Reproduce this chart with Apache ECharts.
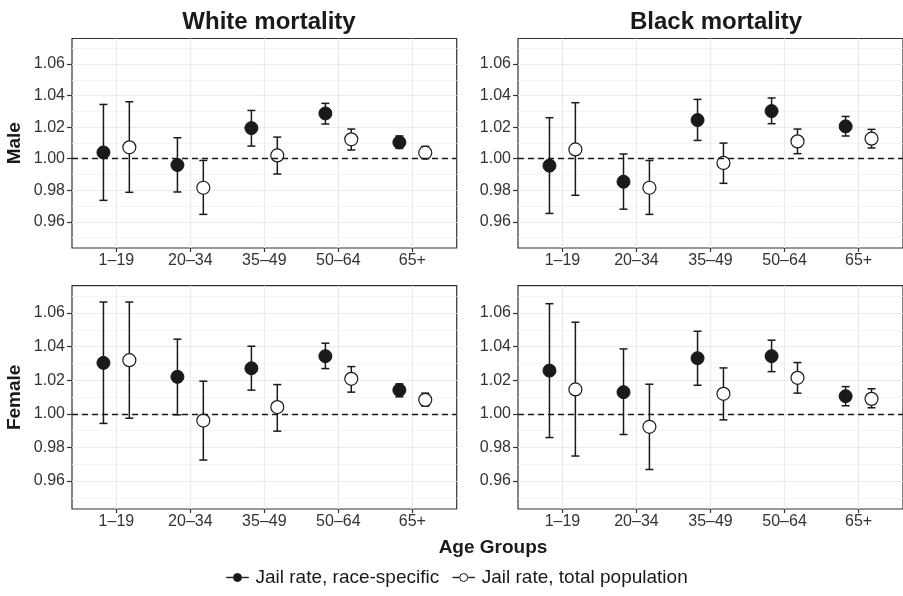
<!DOCTYPE html>
<html><head><meta charset="utf-8">
<script src="https://cdn.jsdelivr.net/npm/echarts@6/dist/echarts.min.js"></script>
<style>html,body{margin:0;padding:0;background:#fff}#c{width:903px;height:596px}</style>
</head><body><div id="c"></div>
<script>
const categories = ['1–19', '20–34', '35–49', '50–64', '65+'];
const yTicks = [0.96, 0.98, 1.00, 1.02, 1.04, 1.06];
const yMinorTicks = [0.95, 0.97, 0.99, 1.01, 1.03, 1.05, 1.07];
const seriesNames = ['Jail rate, race-specific', 'Jail rate, total population'];
const panelTitles = ['White mortality', 'Black mortality'];
const rowLabels = ['Male', 'Female'];
const referenceValue = 1.0;

// White mortality, Male
const whiteMaleRaceEst = [1.0040, 0.9960, 1.0194, 1.0287, 1.0104];
const whiteMaleRaceLo  = [0.9736, 0.9789, 1.0080, 1.0220, 1.0065];
const whiteMaleRaceHi  = [1.0344, 1.0133, 1.0306, 1.0351, 1.0144];
const whiteMaleTotEst  = [1.0072, 0.9816, 1.0021, 1.0123, 1.0038];
const whiteMaleTotLo   = [0.9787, 0.9647, 0.9903, 1.0055, 1.0000];
const whiteMaleTotHi   = [1.0361, 0.9989, 1.0137, 1.0188, 1.0078];
// Black mortality, Male
const blackMaleRaceEst = [0.9956, 0.9854, 1.0245, 1.0302, 1.0205];
const blackMaleRaceLo  = [0.9653, 0.9680, 1.0116, 1.0222, 1.0144];
const blackMaleRaceHi  = [1.0260, 1.0030, 1.0376, 1.0385, 1.0268];
const blackMaleTotEst  = [1.0059, 0.9816, 0.9973, 1.0110, 1.0127];
const blackMaleTotLo   = [0.9768, 0.9647, 0.9844, 1.0032, 1.0068];
const blackMaleTotHi   = [1.0355, 0.9989, 1.0099, 1.0188, 1.0186];
// White mortality, Female
const whiteFemaleRaceEst = [1.0303, 1.0220, 1.0271, 1.0343, 1.0141];
const whiteFemaleRaceLo  = [0.9943, 0.9994, 1.0141, 1.0269, 1.0101];
const whiteFemaleRaceHi  = [1.0665, 1.0444, 1.0402, 1.0420, 1.0178];
const whiteFemaleTotEst  = [1.0319, 0.9960, 1.0040, 1.0208, 1.0083];
const whiteFemaleTotLo   = [0.9974, 0.9725, 0.9897, 1.0129, 1.0046];
const whiteFemaleTotHi   = [1.0665, 1.0194, 1.0174, 1.0281, 1.0123];
// Black mortality, Female
const blackFemaleRaceEst = [1.0257, 1.0129, 1.0331, 1.0343, 1.0105];
const blackFemaleRaceLo  = [0.9859, 0.9877, 1.0170, 1.0251, 1.0048];
const blackFemaleRaceHi  = [1.0655, 1.0386, 1.0491, 1.0438, 1.0162];
const blackFemaleTotEst  = [1.0145, 0.9923, 1.0119, 1.0214, 1.0089];
const blackFemaleTotLo   = [0.9749, 0.9669, 0.9964, 1.0123, 1.0036];
const blackFemaleTotHi   = [1.0545, 1.0176, 1.0273, 1.0305, 1.0149];

const panels = [
  {race: [whiteMaleRaceEst, whiteMaleRaceLo, whiteMaleRaceHi], tot: [whiteMaleTotEst, whiteMaleTotLo, whiteMaleTotHi]},
  {race: [blackMaleRaceEst, blackMaleRaceLo, blackMaleRaceHi], tot: [blackMaleTotEst, blackMaleTotLo, blackMaleTotHi]},
  {race: [whiteFemaleRaceEst, whiteFemaleRaceLo, whiteFemaleRaceHi], tot: [whiteFemaleTotEst, whiteFemaleTotLo, whiteFemaleTotHi]},
  {race: [blackFemaleRaceEst, blackFemaleRaceLo, blackFemaleRaceHi], tot: [blackFemaleTotEst, blackFemaleTotLo, blackFemaleTotHi]}
];

const FONT = "'Liberation Sans', Arial, Helvetica, sans-serif";
const INK = '#1a1a1a';
const DODGE = 0.175;
const Y_MIN = 0.9434, Y_MAX = 1.0762;

const gridBoxes = [
  {left: 72, top: 38.5, width: 384.7, height: 209.5},
  {left: 518, top: 38.5, width: 387, height: 209.5},
  {left: 72, top: 285.7, width: 384.7, height: 223.3},
  {left: 518, top: 285.7, width: 387, height: 223.3}
];

const catPos = categories.map((c, i) => i + 1);

function errRender(params, api) {
  const x = api.value(0), lo = api.value(1), hi = api.value(2);
  const pLo = api.coord([x, lo]), pHi = api.coord([x, hi]);
  const hw = 4;
  const style = {stroke: INK, lineWidth: 1.5, fill: null};
  return {type: 'group', children: [
    {type: 'line', shape: {x1: pLo[0], y1: pLo[1], x2: pHi[0], y2: pHi[1]}, style: style},
    {type: 'line', shape: {x1: pHi[0] - hw, y1: pHi[1], x2: pHi[0] + hw, y2: pHi[1]}, style: style},
    {type: 'line', shape: {x1: pLo[0] - hw, y1: pLo[1], x2: pLo[0] + hw, y2: pLo[1]}, style: style}
  ]};
}

const grid = [], xAxis = [], yAxis = [], series = [];
gridBoxes.forEach((b, g) => {
  grid.push(Object.assign({show: true, borderColor: '#333', borderWidth: 1.2, backgroundColor: '#fff', containLabel: false}, b));
  xAxis.push({
    type: 'value', gridIndex: g, min: 0.4, max: 5.6,
    axisLine: {show: false},
    axisTick: {show: true, length: 4, customValues: catPos, lineStyle: {color: '#333', width: 1.2}},
    axisLabel: {show: true, customValues: catPos, margin: 5, fontSize: 16, color: '#333', fontFamily: FONT,
      formatter: v => categories[Math.round(v) - 1]},
    splitLine: {show: true, lineStyle: {color: '#EBEBEB', width: 1.2}}
  });
});
gridBoxes.forEach((b, g) => {
  yAxis.push({
    type: 'value', gridIndex: g, min: Y_MIN, max: Y_MAX,
    name: (g % 2 === 0) ? rowLabels[g >> 1] : '',
    nameLocation: 'middle', nameRotate: 90, nameGap: 48,
    nameTextStyle: {fontSize: 19, fontWeight: 'bold', color: INK, fontFamily: FONT},
    axisLine: {show: false},
    axisTick: {show: true, length: 5, customValues: yTicks, lineStyle: {color: '#333', width: 1.2}},
    axisLabel: {show: true, customValues: yTicks, margin: 7, fontSize: 16, color: '#333', fontFamily: FONT,
      formatter: v => v.toFixed(2)},
    splitLine: {show: true, lineStyle: {color: '#EBEBEB', width: 1.2}}
  });
});
gridBoxes.forEach((b, g) => {
  yAxis.push({
    type: 'value', gridIndex: g, min: Y_MIN, max: Y_MAX,
    axisLine: {show: false},
    axisTick: {show: false, customValues: yMinorTicks},
    axisLabel: {show: false, customValues: yMinorTicks},
    splitLine: {show: true, lineStyle: {color: '#F2F2F2', width: 0.8}}
  });
});
// dummy series for minor axes so they render
gridBoxes.forEach((b, g) => {
  series.push({type: 'line', xAxisIndex: g, yAxisIndex: 4 + g, data: [], silent: true});
});

panels.forEach((p, g) => {
  ['race', 'tot'].forEach((k, j) => {
    const off = j === 0 ? -DODGE : DODGE;
    const [est, lo, hi] = p[k];
    const errSeries = {
      type: 'custom', name: 'ci-' + g + '-' + k, xAxisIndex: g, yAxisIndex: g, z: 2, silent: true,
      renderItem: errRender, encode: {x: 0, y: [1, 2]},
      data: catPos.map((c, i) => [c + off, lo[i], hi[i]])
    };
    if (j === 0) {
      errSeries.markLine = {
        silent: true, symbol: 'none', label: {show: false},
        lineStyle: {color: INK, type: [6, 4], width: 1.3},
        data: [{yAxis: referenceValue}]
      };
    }
    series.push(errSeries);
    series.push({
      type: 'scatter', name: seriesNames[j], xAxisIndex: g, yAxisIndex: g, z: 3,
      symbol: 'circle', symbolSize: 13,
      itemStyle: j === 0 ? {color: INK, borderColor: INK, borderWidth: 1, opacity: 1}
                         : {color: '#fff', borderColor: INK, borderWidth: 1.2, opacity: 1},
      data: catPos.map((c, i) => [c + off, est[i]])
    });
  });
});

const legendIcon = 'path://M0,4.3H6.5V4.7H0Z M15.5,4.3H22V4.7H15.5Z M7,4.5A4,4 0 1,0 15,4.5A4,4 0 1,0 7,4.5Z';

const option = {
  animation: false,
  backgroundColor: '#fff',
  title: [
    {text: panelTitles[0], left: 264, top: 5, textAlign: 'center',
     textStyle: {fontSize: 24, fontWeight: 'bold', color: INK, fontFamily: FONT}},
    {text: panelTitles[1], left: 711, top: 5, textAlign: 'center',
     textStyle: {fontSize: 24, fontWeight: 'bold', color: INK, fontFamily: FONT}},
    {text: 'Age Groups', left: 488, top: 533, textAlign: 'center',
     textStyle: {fontSize: 19, fontWeight: 'bold', color: INK, fontFamily: FONT}}
  ],
  legend: {
    left: 221, top: 563, itemWidth: 22, itemHeight: 9, itemGap: 13, selectedMode: false,
    textStyle: {fontSize: 19, color: INK, fontFamily: FONT, padding: [0, 0, 0, 2]},
    data: [
      {name: seriesNames[0], icon: legendIcon, itemStyle: {color: INK, borderColor: INK, borderWidth: 1}},
      {name: seriesNames[1], icon: legendIcon, itemStyle: {color: '#fff', borderColor: INK, borderWidth: 1}}
    ]
  },
  grid, xAxis, yAxis, series
};

const chart = echarts.init(document.getElementById('c'), null, {renderer: 'canvas'});
chart.setOption(option);
</script>
</body></html>
